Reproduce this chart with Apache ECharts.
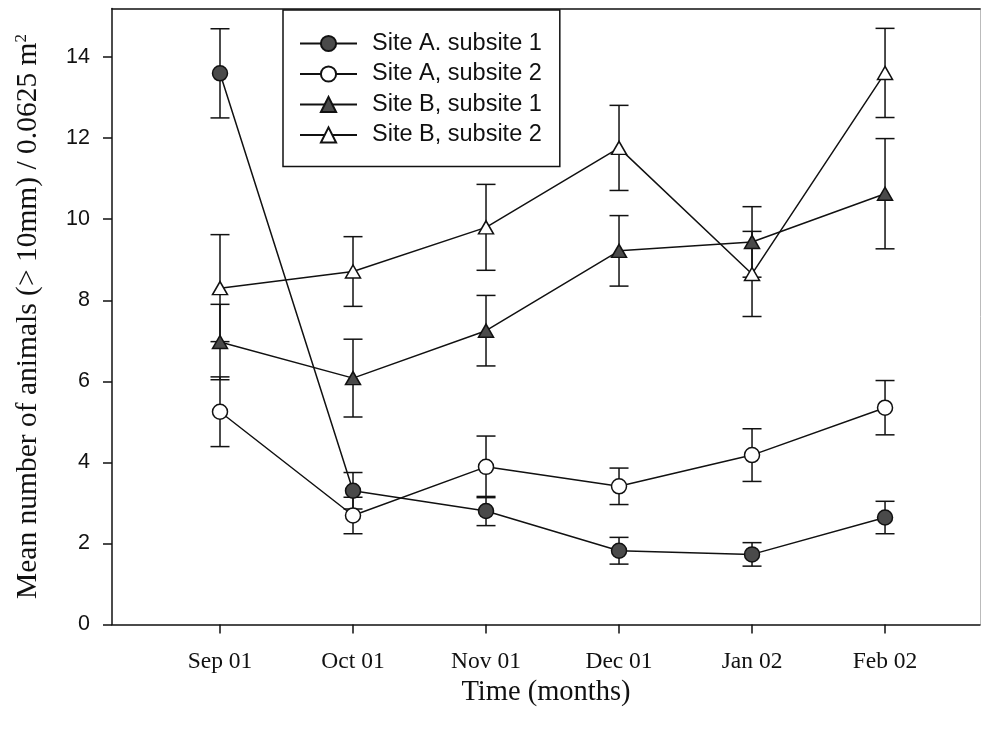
<!DOCTYPE html>
<html>
<head>
<meta charset="utf-8">
<script src="https://cdn.jsdelivr.net/npm/echarts@6/dist/echarts.min.js"></script>
<style>
  html, body { margin: 0; padding: 0; background: #fff; }
  #chart { width: 985px; height: 730px; }
</style>
</head>
<body>
<div id="chart"></div>
<script>
// Sampling months (category positions 0..5 on the time axis)
const months = ['Sep 01', 'Oct 01', 'Nov 01', 'Dec 01', 'Jan 02', 'Feb 02'];
const yTicks = [0, 2, 4, 6, 8, 10, 12, 14];

// Means and standard errors per site / subsite
const siteA1 = [13.6, 3.3, 2.8, 1.82, 1.73, 2.64];
const siteA1Err = [1.1, 0.45, 0.36, 0.33, 0.29, 0.4];
const siteA2 = [5.25, 2.69, 3.89, 3.41, 4.18, 5.35];
const siteA2Err = [0.86, 0.45, 0.76, 0.45, 0.65, 0.67];
const siteB1 = [6.97, 6.08, 7.25, 9.22, 9.44, 10.63];
const siteB1Err = [0.93, 0.96, 0.87, 0.87, 0.87, 1.36];
const siteB2 = [8.3, 8.71, 9.8, 11.76, 8.65, 13.61];
const siteB2Err = [1.32, 0.86, 1.06, 1.05, 1.05, 1.1];

const names = ['Site A. subsite 1', 'Site A, subsite 2', 'Site B, subsite 1', 'Site B, subsite 2'];

const INK = '#111';
const FILL = '#4a4a4a';

function errorBars(means, errs) {
  return {
    type: 'custom',
    silent: true,
    z: 1,
    animation: false,
    data: means.map((m, i) => [i, m - errs[i], m + errs[i]]),
    encode: { x: 0, y: [1, 2] },
    renderItem(params, api) {
      const x = api.value(0);
      const lo = api.coord([x, api.value(1)]);
      const hi = api.coord([x, api.value(2)]);
      const w = 9.5;
      const style = { stroke: INK, lineWidth: 1.5 };
      return {
        type: 'group',
        children: [
          { type: 'line', shape: { x1: lo[0], y1: lo[1], x2: hi[0], y2: hi[1] }, style },
          { type: 'line', shape: { x1: hi[0] - w, y1: hi[1], x2: hi[0] + w, y2: hi[1] }, style },
          { type: 'line', shape: { x1: lo[0] - w, y1: lo[1], x2: lo[0] + w, y2: lo[1] }, style }
        ]
      };
    }
  };
}

function meanLine(name, means, symbol, size, fill) {
  return {
    type: 'line',
    name,
    z: 3,
    animation: false,
    data: means.map((v, i) => [i, v]),
    symbol,
    symbolSize: size,
    showAllSymbol: true,
    lineStyle: { color: INK, width: 1.5 },
    itemStyle: { color: fill, borderColor: INK, borderWidth: 1.5 },
    emphasis: { disabled: true }
  };
}

const xMin = -0.812, xMax = 5.714;

const option = {
  backgroundColor: '#fff',
  animation: false,
  grid: { left: 112, right: 5, top: 8.5, bottom: 105.5, containLabel: false },
  legend: {
    orient: 'vertical',
    left: 283,
    top: 10,
    data: names,
    selectedMode: false,
    itemWidth: 57,
    itemHeight: 19,
    itemGap: 6.5,
    padding: [21.5, 18, 19.5, 16],
    borderColor: INK,
    borderWidth: 1.5,
    backgroundColor: '#fff',
    textStyle: { fontFamily: 'Liberation Sans', fontSize: 23.5, color: INK, padding: [0, 0, 0, 10] }
  },
  xAxis: [
    {
      type: 'value',
      min: xMin,
      max: xMax,
      position: 'bottom',
      name: 'Time (months)',
      nameLocation: 'middle',
      nameGap: 49,
      nameTextStyle: { fontFamily: 'Liberation Serif', fontSize: 28.5, color: INK },
      axisLine: { onZero: false, lineStyle: { color: INK, width: 1.5 } },
      axisTick: { show: true, length: 9, lineStyle: { color: INK, width: 1.5 }, customValues: months.map((m, i) => i) },
      axisLabel: {
        margin: 25,
        fontFamily: 'Liberation Serif',
        fontSize: 23.5,
        color: INK,
        customValues: months.map((m, i) => i),
        formatter: v => months[Math.round(v)] || ''
      },
      splitLine: { show: false }
    },
    {
      type: 'value',
      min: xMin,
      max: xMax,
      position: 'top',
      axisLine: { onZero: false, lineStyle: { color: INK, width: 1.5 } },
      axisTick: { show: false },
      axisLabel: { show: false },
      splitLine: { show: false }
    }
  ],
  yAxis: [
    {
      type: 'value',
      min: 0,
      max: 15.2,
      position: 'left',
      name: 'Mean number of animals (> 10mm) / 0.0625 m{sup|2}',
      nameLocation: 'middle',
      nameGap: 69,
      nameTextStyle: {
        fontFamily: 'Liberation Serif',
        fontSize: 29.5,
        color: INK,
        rich: {
          sup: { fontFamily: 'Liberation Serif', fontSize: 17, color: INK, verticalAlign: 'top', lineHeight: 17 }
        }
      },
      axisLine: { onZero: false, lineStyle: { color: INK, width: 1.5 } },
      axisTick: { show: true, length: 9, lineStyle: { color: INK, width: 1.5 }, customValues: yTicks },
      axisLabel: {
        margin: 22,
        fontFamily: 'Liberation Sans',
        fontSize: 21.5,
        color: INK,
        customValues: yTicks
      },
      splitLine: { show: false }
    },
    {
      type: 'value',
      min: 0,
      max: 15.2,
      position: 'right',
      axisLine: { onZero: false, lineStyle: { color: '#bbb', width: 1 } },
      axisTick: { show: false },
      axisLabel: { show: false },
      splitLine: { show: false }
    }
  ],
  series: [
    errorBars(siteA1, siteA1Err),
    errorBars(siteA2, siteA2Err),
    errorBars(siteB1, siteB1Err),
    errorBars(siteB2, siteB2Err),
    meanLine(names[0], siteA1, 'circle', 15, FILL),
    meanLine(names[1], siteA2, 'circle', 15, '#fff'),
    meanLine(names[2], siteB1, 'triangle', [15, 13], FILL),
    meanLine(names[3], siteB2, 'triangle', [15, 13], '#fff')
  ]
};

const chart = echarts.init(document.getElementById('chart'), null, { renderer: 'canvas' });
chart.setOption(option);
</script>
</body>
</html>
